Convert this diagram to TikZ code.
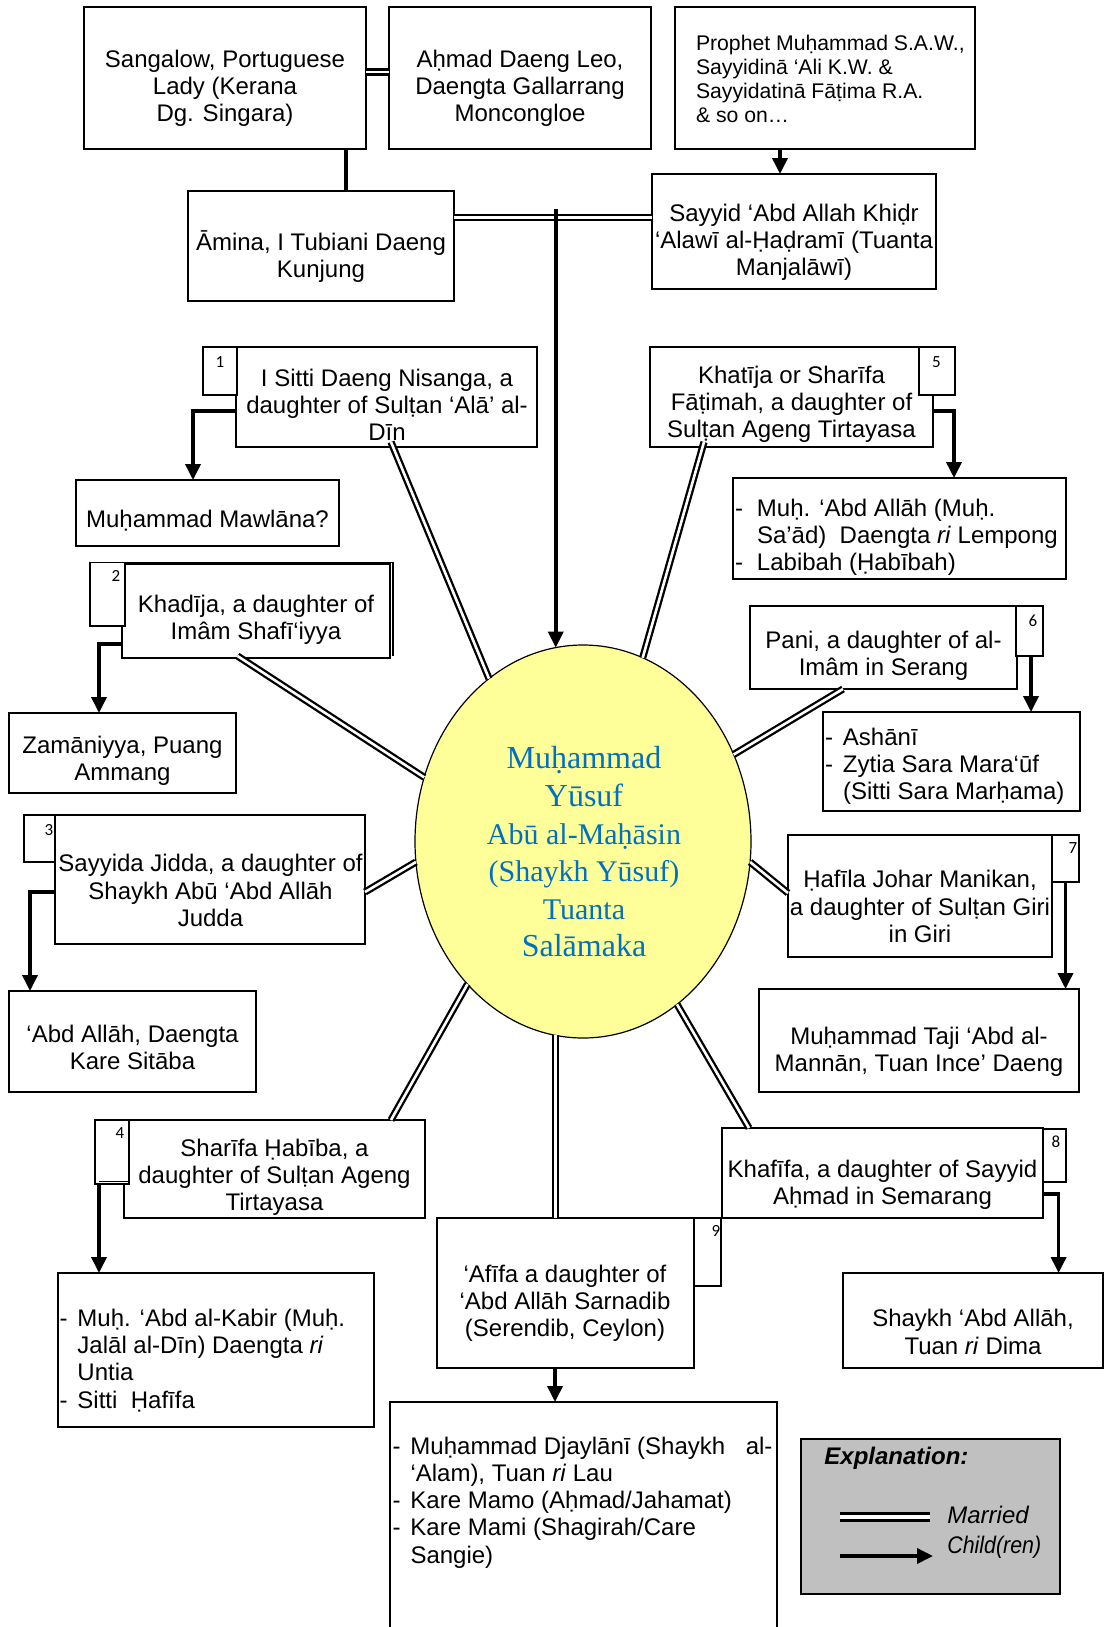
\documentclass[tikz,border=0pt]{standalone}
\usepackage{fontspec}
\setmainfont{Liberation Sans}
\newfontfamily\serifY{Liberation Serif}
\newfontfamily\numfont{Carlito}
\usetikzlibrary{shapes.geometric,arrows.meta,fit,calc}
\definecolor{yblue}{HTML}{0070C0}
\definecolor{yfill}{HTML}{FFFF99}
\definecolor{legendgray}{HTML}{C0C0C0}
\tikzset{
  box/.style={draw, line width=0.9pt, inner sep=0pt, outer sep=0pt, fill=white},
  numbox/.style={draw, line width=0.9pt, inner sep=0pt, outer sep=0pt, fill=white},
  txt/.style={inner sep=0pt, outer sep=0pt, align=center, yshift=-1.25pt, font=\fontsize{12pt}{13.6pt}\selectfont},
  ltxt/.style={inner sep=0pt, outer sep=0pt, align=left, anchor=west, yshift=-1.25pt, font=\fontsize{12pt}{13.6pt}\selectfont},
  num/.style={inner sep=0pt, outer sep=0pt, font=\numfont\fontsize{8.5pt}{9pt}\selectfont},
  married/.style={draw, line width=1.15pt, double, double distance=1.3pt},
  child/.style={draw, line width=1.8pt, -{Triangle[length=8pt,width=7.5pt]}},
}
\begin{document}
\begin{tikzpicture}[x=0.5pt,y=-0.5pt]
\useasboundingbox (0,0) rectangle (1104,1627);
\fill[white] (0,0) rectangle (1104,1627);

% boxes
\node[box, fit={(84,7)(366,149)}] (sang) {};
\node[box, fit={(389,7)(651,149)}] (ahmad) {};
\node[box, fit={(675,7)(975,149)}] (proph) {};
\node[box, fit={(652,174)(936,289)}] (sayyid) {};
\node[box, fit={(188,191)(454,301)}] (amina) {};
\node[box, fit={(236,347)(537,447)}] (isitti) {};
\node[numbox, fit={(203,347)(237,395)}] (n1) {};
\node[box, fit={(76,480)(339,546)}] (mawl) {};
\node[box, fit={(122,564)(390,658)}] (khad) {};
\draw[line width=0.9pt] (125,562.5) -- (393,562.5) -- (393,656);
\node[numbox, fit={(90,562.5)(125,626)}] (n2) {};
\node[box, fit={(9,713)(236,793)}] (zam) {};
\node[box, fit={(650,347)(933,447)}] (khat) {};
\node[numbox, fit={(919,347)(955,395)}] (n5) {};
\node[box, fit={(733,478)(1066,579)}] (abdallah) {};
\node[box, fit={(750,606)(1017,689)}] (pani) {};
\node[numbox, fit={(1016,606)(1043,656)}] (n6) {};
\node[box, fit={(823,712)(1080,811)}] (ashani) {};
\node[box, fit={(55,815)(365,944)}] (sayyida) {};
\node[numbox, fit={(24,815)(55,862)}] (n3) {};
\node[box, fit={(9,991)(256,1092)}] (abdk) {};
\node[box, fit={(124,1120)(425,1218)}] (sharifa) {};
\node[numbox, fit={(95,1120)(129,1184)}] (n4) {};
\draw[line width=0.9pt] (99,1181.5) -- (129,1181.5);
\node[box, fit={(58,1273)(374,1427)}] (kabir) {};
\node[box, fit={(788,835)(1052,957)}] (hafila) {};
\node[numbox, fit={(1052,835)(1079,882)}] (n7) {};
\node[box, fit={(759,989)(1079,1092)}] (taji) {};
\node[box, fit={(722,1128)(1043,1218)}] (khaf) {};
\node[numbox, fit={(1043,1129)(1066,1182)}] (n8) {};
\node[box, fit={(843,1273)(1103,1368)}] (shaykh) {};
\node[box, fit={(437,1218)(694,1368)}] (afifa) {};
\node[numbox, fit={(694,1218)(721,1286)}] (n9) {};
\node[box, fit={(390,1402)(777,1690)}] (djay) {};
\node[draw, line width=0.9pt, fill=legendgray, inner sep=0pt, outer sep=0pt, fit={(801,1439)(1060,1594)}] (legend) {};
\node[ellipse, draw, line width=0.6pt, fill=yfill, minimum width=168pt, minimum height=196.5pt, inner sep=0pt, outer sep=0pt] (Y) at (583,841.5) {};

% numbers
\node[num] (n1t) at (220,362) {1};
\node[num] (n2t) at (116,576) {2};
\node[num] (n3t) at (49,830) {3};
\node[num] (n4t) at (120,1133) {4};
\node[num] (n5t) at (936.5,362) {5};
\node[num] (n6t) at (1033,621) {6};
\node[num] (n7t) at (1073,848) {7};
\node[num] (n8t) at (1056,1142) {8};
\node[num] (n9t) at (716,1231) {9};

% texts
\node[txt] (sangT) at (225,86) {Sangalow, Portuguese\\Lady (Kerana\\Dg. Singara)};
\node[txt] (ahmadT) at (520,86) {Aḥmad Daeng Leo,\\Daengta Gallarrang\\Moncongloe};
\node[txt, align=left, anchor=west, yshift=1.25pt, font=\fontsize{10.6pt}{12.1pt}\selectfont] (prophT) at (696,79) {Prophet Muḥammad S.A.W.,\\Sayyidinā ‘Ali K.W. \&\\Sayyidatinā Fāṭima R.A.\\\& so on…};
\node[txt] (sayyidT) at (794,240) {Sayyid ‘Abd Allah Khiḍr\\‘Alawī al-Ḥaḍramī (Tuanta\\Manjalāwī)};
\node[txt] (aminaT) at (321,254) {Āmina, I Tubiani Daeng\\Kunjung};
\node[txt] (isittiT) at (387,402) {I Sitti Daeng Nisanga, a\\daughter of Sulṭan ‘Alā’ al-\\Dīn};
\node[txt] (mawlT) at (207.5,518) {Muḥammad Mawlāna?};
\node[txt] (khadT) at (256,617) {Khadīja, a daughter of\\Imâm Shafī‘iyya};
\node[txt] (zamT) at (122.5,758.5) {Zamāniyya, Puang\\Ammang};
\node[txt] (khatT) at (791.5,402) {Khatīja or Sharīfa\\Fāṭimah, a daughter of\\Sulṭan Ageng Tirtayasa};
\node[ltxt] (abdallahT) at (735,535) {\makebox[11pt][l]{-}Muḥ. ‘Abd Allāh (Muḥ.\\\hspace*{11pt}Sa’ād)\ \ Daengta \textit{ri} Lempong\\\makebox[11pt][l]{-}Labibah (Ḥabībah)};
\node[txt] (paniT) at (883.5,653) {Pani, a daughter of al-\\Imâm in Serang};
\node[ltxt] (ashaniT) at (825,764) {\makebox[9pt][l]{-}Ashānī\\\makebox[9pt][l]{-}Zytia Sara Mara‘ūf\\\hspace*{9pt}(Sitti Sara Marḥama)};
\node[txt] (sayyidaT) at (210.5,888) {Sayyida Jidda, a daughter of\\Shaykh Abū ‘Abd Allāh\\Judda};
\node[txt] (abdkT) at (132.5,1045) {‘Abd Allāh, Daengta\\Kare Sitāba};
\node[txt] (sharifaT) at (274.5,1175) {Sharīfa Ḥabība, a\\daughter of Sulṭan Ageng\\Tirtayasa};
\node[ltxt] (kabirT) at (59.5,1358) {\makebox[9pt][l]{-}Muḥ. ‘Abd al-Kabir (Muḥ.\\\hspace*{9pt}Jalāl al-Dīn) Daengta \textit{ri}\\\hspace*{9pt}Untia\\\makebox[9pt][l]{-}Sitti\ \ Ḥafīfa};
\node[txt] (afifaT) at (565,1301) {‘Afīfa a daughter of\\‘Abd Allāh Sarnadib\\(Serendib, Ceylon)};
\node[ltxt] (djayT) at (392.5,1500) {\makebox[9pt][l]{-}\makebox[181pt][l]{Muḥammad Djaylānī (Shaykh\hfill al-}\\\hspace*{9pt}‘Alam), Tuan \textit{ri} Lau\\\makebox[9pt][l]{-}Kare Mamo (Aḥmad/Jahamat)\\\makebox[9pt][l]{-}Kare Mami (Shagirah/Care\\\hspace*{9pt}Sangie)};
\node[txt] (hafilaT) at (920,904) {Ḥafīla Johar Manikan,\\a daughter of Sulṭan Giri\\in Giri};
\node[txt] (tajiT) at (919,1049.5) {Muḥammad Taji ‘Abd al-\\Mannān, Tuan Ince’ Daeng};
\node[txt] (khafT) at (882.5,1182) {Khafīfa, a daughter of Sayyid\\Aḥmad in Semarang};
\node[txt] (shaykhT) at (973,1329.5) {Shaykh ‘Abd Allāh,\\Tuan \textit{ri} Dima};
\node[txt, text=yblue, yshift=0.25pt, font=\serifY\fontsize{15pt}{18.8pt}\selectfont] (YT) at (584,850) {{\fontsize{16pt}{18.8pt}\selectfont Muḥammad}\\{\fontsize{16pt}{18.8pt}\selectfont Yūsuf}\\Abū al-Maḥāsin\\(Shaykh Yūsuf)\\Tuanta\\{\fontsize{16pt}{18.8pt}\selectfont Salāmaka}};

% legend
\node[inner sep=0pt, anchor=west, font=\bfseries\itshape\fontsize{12pt}{14pt}\selectfont] (legT) at (824,1458) {Explanation:};
\node[inner sep=0pt, anchor=west, font=\itshape\fontsize{12pt}{14pt}\selectfont] (legM) at (947,1515) {Married};
\node[inner sep=0pt, anchor=west, font=\itshape\fontsize{12pt}{14pt}\selectfont] (legC) at (947,1547) {\scalebox{0.89}[1]{Child(ren)}};
\coordinate (lm1) at (840,1517);
\coordinate (lm2) at (929.5,1517);
\draw[line width=1.3pt, double, double distance=2pt] (lm1) -- (lm2);
\coordinate (la1) at (840,1556);
\coordinate (la2) at (933,1556);
\draw[child] (la1) -- (la2);

% top connectors
\coordinate (m1) at ($(sang.east)+(0,-6)$);
\draw[married] (m1) -- (m1 -| ahmad.west);
\coordinate (m2) at ($(amina.east)+(0,-28.5)$);
\draw[married] (m2) -- (m2 -| sayyid.west);
\coordinate (s1) at ($(sang.south)+(121,0)$);
\draw[line width=1.8pt] (s1) -- (s1 |- amina.north);
\coordinate (p1) at ($(proph.south)+(-45,0)$);
\draw[child] (p1) -- (p1 |- sayyid.north);
\coordinate (c0) at ($(m2 -| Y.98)+(0,-8.5)$);
\draw[child] (c0) -- (c0 |- Y.98);

% married to centre
\coordinate (e1) at ($(isitti.south)+(4.5,-5)$);
\draw[married] (e1) -- (Y.120);
\coordinate (e2) at ($(khad.south)+(-18.5,-2)$);
\draw[married] (e2) -- (Y.158);
\coordinate (e3) at ($(sayyida.east)+(0,12.5)$);
\draw[married] (e3) -- (Y.187);
\coordinate (e4) at ($(sharifa.north)+(116.5,0)$);
\draw[married] (e4) -- (Y.231);
\draw[married] (Y.262) -- (Y.262 |- afifa.north);
\coordinate (e6) at ($(khaf.north)+(-133.5,0)$);
\draw[married] (e6) -- (Y.300);
\coordinate (e7) at ($(hafila.west)+(0,-3)$);
\draw[married] (e7) -- (Y.353);
\coordinate (e8) at ($(pani.south)+(-40.5,0)$);
\draw[married] (e8) -- (Y.30);
\coordinate (e9) at ($(khat.south)+(-87.5,-5)$);
\draw[married] (e9) -- (Y.72);

% children
\coordinate (k1) at ($(isitti.west)+(0,14)$);
\coordinate (k1b) at ($(mawl.north)+(-14.5,0)$);
\draw[child] (k1) -| (k1b);
\coordinate (k2) at ($(khad.west)+(0,33)$);
\coordinate (k2b) at ($(zam.north)+(-23.5,0)$);
\draw[child] (k2) -| (k2b);
\coordinate (k3) at ($(sayyida.west)+(0,12.5)$);
\coordinate (k3b) at ($(abdk.north)+(-102.5,0)$);
\draw[child] (k3) -| (k3b);
\coordinate (k4) at ($(kabir.north)+(-117,0)$);
\draw[child] (k4 |- n4.south) -- (k4);
\coordinate (k5) at ($(khat.east)+(0,14)$);
\coordinate (k5b) at ($(abdallah.north)+(54.5,0)$);
\draw[child] (k5) -| (k5b);
\coordinate (k6) at ($(ashani.north)+(79.5,0)$);
\draw[child] (k6 |- n6.south) -- (k6);
\draw[child] (n7.south) -- (n7.south |- taji.north);
\coordinate (k8) at ($(khaf.east)+(0,21)$);
\coordinate (k8b) at ($(shaykh.north)+(85.6,0)$);
\draw[child] (k8) -| (k8b);
\coordinate (k9) at ($(afifa.south)+(-10.5,0)$);
\draw[child] (k9) -- (k9 |- djay.north);
\end{tikzpicture}
\end{document}
